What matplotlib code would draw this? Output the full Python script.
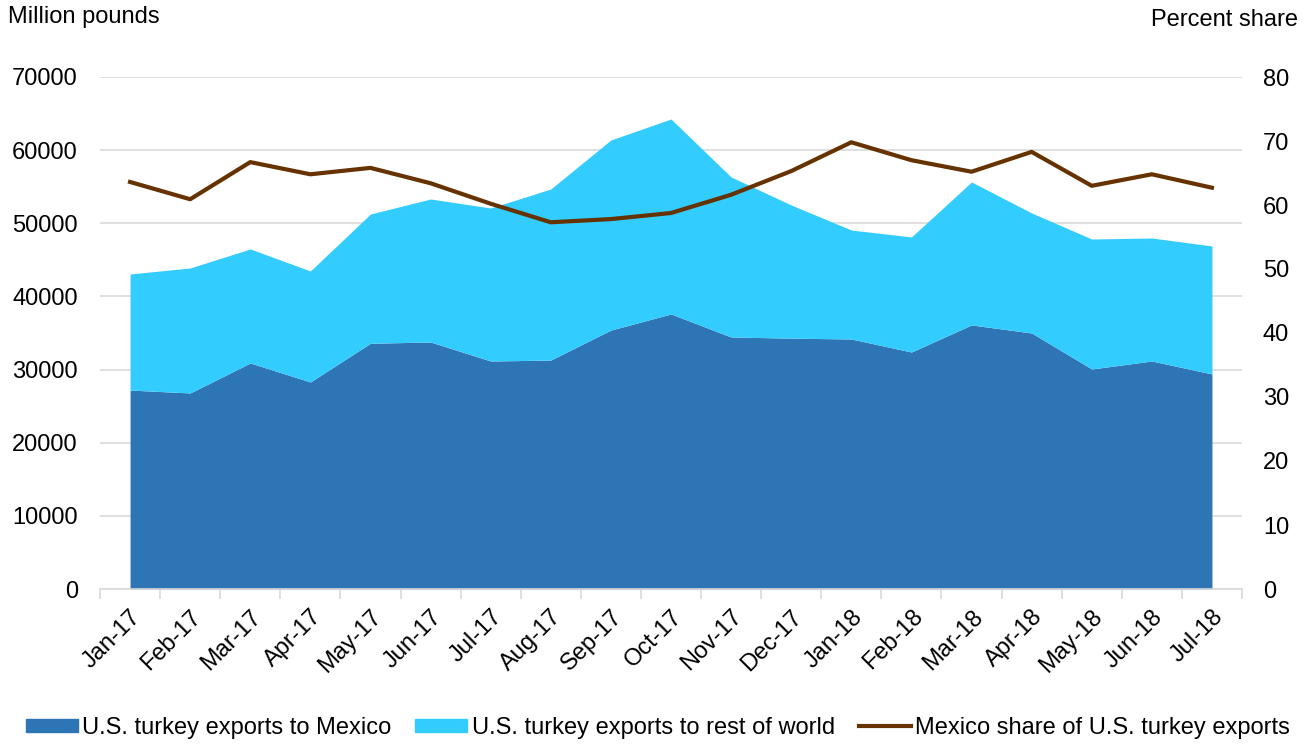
import matplotlib
matplotlib.use("Agg")
import matplotlib.pyplot as plt
import numpy as np
from matplotlib.patches import Patch
from matplotlib.lines import Line2D

plt.rcParams['font.family'] = ['Liberation Sans', 'DejaVu Sans']

# Mois
mois = ["Jan-17", "Feb-17", "Mar-17", "Apr-17", "May-17", "Jun-17", "Jul-17",
        "Aug-17", "Sep-17", "Oct-17", "Nov-17", "Dec-17", "Jan-18", "Feb-18",
        "Mar-18", "Apr-18", "May-18", "Jun-18", "Jul-18"]

# Exportations vers le Mexique (millions de livres)
mexique = [27200, 26800, 30900, 28300, 33600, 33770, 31170, 31300, 35400, 37600,
           34450, 34300, 34180, 32400, 36100, 35000, 30080, 31170, 29400]

# Total des exportations (haut de la zone bleu clair)
total = [43070, 43890, 46490, 43480, 51270, 53320, 52090, 54690, 61390, 64260,
         56330, 52500, 49080, 48130, 55650, 51410, 47850, 47990, 46900]

# Part du Mexique (%)
part = [63.6, 60.9, 66.7, 64.8, 65.8, 63.4, 60.2, 57.3, 57.8, 58.75,
        61.6, 65.3, 69.8, 67.0, 65.2, 68.3, 63.0, 64.8, 62.7]

c_mex = "#2E75B6"
c_reste = "#33CCFF"
c_part = "#663300"
fs = 17

x = np.arange(len(mois))
mexique = np.array(mexique)
total = np.array(total)

fig = plt.figure(figsize=(13.1, 7.44), dpi=100)
ax = fig.add_axes([100/1310, 1-589/744, 1142/1310, 512/744])

ax.fill_between(x, 0, mexique, color=c_mex, linewidth=0, zorder=2)
ax.fill_between(x, mexique, total, color=c_reste, linewidth=0, zorder=2)

ax.set_xlim(-0.5, len(mois) - 0.5)
ax.set_ylim(0, 70000)
ax.set_yticks(range(0, 70001, 10000))
ax.yaxis.grid(True, color="#d9d9d9", linewidth=1.2, zorder=0)
ax.set_axisbelow(True)
ax.tick_params(axis='y', length=0, labelsize=fs, pad=16)

ax.set_xticks(x)
ax.set_xticklabels(mois, rotation=45, ha='right', rotation_mode='anchor', fontsize=fs)
ax.tick_params(axis='x', length=0, pad=12)
ax.set_xticks(np.arange(-0.5, len(mois), 1), minor=True)
ax.tick_params(axis='x', which='minor', length=7, color="#d9d9d9", width=1.2)

for s in ["top", "left", "right"]:
    ax.spines[s].set_visible(False)
ax.spines["bottom"].set_color("#d9d9d9")
ax.spines["bottom"].set_linewidth(1.2)

ax2 = ax.twinx()
ax2.plot(x, part, color=c_part, linewidth=3, zorder=3)
ax2.set_ylim(0, 80)
ax2.set_yticks(range(0, 81, 10))
ax2.tick_params(axis='y', length=0, labelsize=fs, pad=15)
for s in ["top", "left", "right", "bottom"]:
    ax2.spines[s].set_visible(False)

fig.text(8/1310, 1-17/744, "Million pounds", fontsize=fs, va='center', ha='left')
fig.text(1298/1310, 1-20/744, "Percent share", fontsize=fs, va='center', ha='right')

handles = [Patch(color=c_mex), Patch(color=c_reste),
           Line2D([0], [0], color=c_part, linewidth=3)]
labels = ["U.S. turkey exports to Mexico", "U.S. turkey exports to rest of world",
          "Mexico share of U.S. turkey exports"]
fig.legend(handles, labels, loc='center', bbox_to_anchor=(658/1310, 1-728/744), ncol=3,
           frameon=False, fontsize=fs, handlelength=2.2, handleheight=0.5,
           handletextpad=0.2, columnspacing=1.0, borderpad=0, borderaxespad=0)

plt.savefig("out.png", dpi=100)
